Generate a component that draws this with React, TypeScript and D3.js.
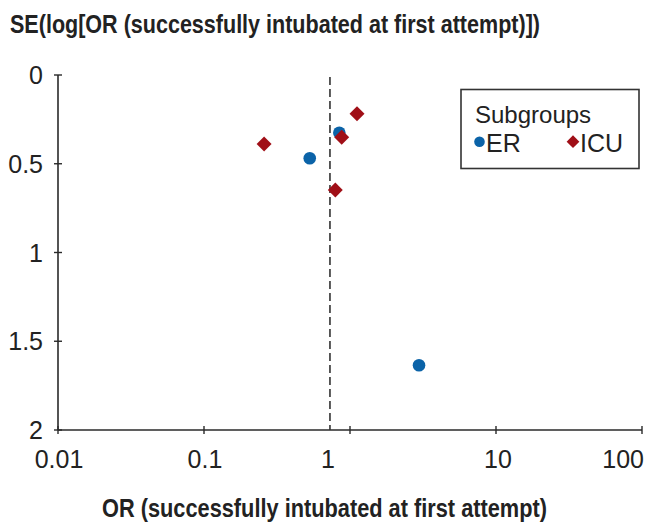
import React from "react";
import * as d3 from "d3";

const xTickValues = [0.01, 0.1, 1, 10, 100];
const xTickLabels = ["0.01", "0.1", "1", "10", "100"];
const yTickValues = [0, 0.5, 1, 1.5, 2];
const yTickLabels = ["0", "0.5", "1", "1.5", "2"];

const erOR = [0.53, 0.845, 2.97];
const erSE = [0.469, 0.325, 1.635];
const icuOR = [0.258, 0.877, 1.117, 0.793];
const icuSE = [0.389, 0.351, 0.218, 0.648];
const pooledOR = 0.729;

const seriesNames = ["ER", "ICU"];
const titleText = "SE(log[OR (successfully intubated at first attempt)])";
const xLabelText = "OR (successfully intubated at first attempt)";
const legendTitle = "Subgroups";

const W = 654;
const H = 531;
const FONT = "'Liberation Sans Narrow', 'Arial Narrow', 'Liberation Sans', Arial, sans-serif";
const BLUE = "#0b63a8";
const RED = "#a00f17";
const AXIS = "#2a2a2a";

// per-label horizontal placement (style only)
const xLabelAnchor = ["middle", "middle", "middle", "middle", "end"];
const xLabelDx = [1, 1, -22, 2, 2];

export default function App() {
  const x = d3.scaleLog().domain([0.01, 100]).range([58, 642]);
  const y = d3.scaleLinear().domain([0, 2]).range([75, 430]);
  const diamond = d3.symbol().type(d3.symbolDiamond2 || d3.symbolDiamond).size(130);
  const diamondPath = d3.symbol().type(d3.symbolSquare).size(112)();

  const x0 = x.range()[0];
  const x1 = x.range()[1];
  const y0 = y.range()[0];
  const y1 = y.range()[1];

  const Diamond = ({ cx, cy, s = 1 }: { cx: number; cy: number; s?: number }) => (
    <path d={diamondPath} transform={`translate(${cx},${cy}) rotate(45) scale(${s})`} fill={RED} />
  );

  return (
    <svg width={W} height={H} style={{ display: "block", position: "absolute", left: 0, top: 0 }}>
      <rect width={W} height={H} fill="#fff" />
      <text x={10} y={33} fontFamily={FONT} fontWeight="bold" fontSize={25} fill="#222" textLength={530} lengthAdjust="spacingAndGlyphs">
        {titleText}
      </text>

      {/* y axis */}
      <line x1={x0} x2={x0} y1={y0} y2={y1} stroke={AXIS} strokeWidth={1.6} />
      {yTickValues.map((v, i) => (
        <g key={"yt" + i}>
          <line x1={x0 - 4} x2={x0 + 4} y1={y(v)} y2={y(v)} stroke={AXIS} strokeWidth={1.4} />
          <text x={x0 - 15} y={y(v)} dy="0.36em" textAnchor="end" fontFamily={FONT} fontSize={25} fill="#222">
            {yTickLabels[i]}
          </text>
        </g>
      ))}

      {/* x axis */}
      <line x1={x0} x2={x1} y1={y1} y2={y1} stroke={AXIS} strokeWidth={1.6} />
      {xTickValues.map((v, i) => (
        <g key={"xt" + i}>
          <line x1={x(v)} x2={x(v)} y1={y1 - 4} y2={y1 + 4} stroke={AXIS} strokeWidth={1.4} />
          <text x={x(v) + xLabelDx[i]} y={468} textAnchor={xLabelAnchor[i] as any} fontFamily={FONT} fontSize={25} fill="#222">
            {xTickLabels[i]}
          </text>
        </g>
      ))}
      <text x={102} y={517} fontFamily={FONT} fontWeight="bold" fontSize={25} fill="#222" textLength={445} lengthAdjust="spacingAndGlyphs">
        {xLabelText}
      </text>

      {/* pooled estimate */}
      <line x1={x(pooledOR)} x2={x(pooledOR)} y1={y0 + 2} y2={y1} stroke="#333" strokeWidth={1.6} strokeDasharray="8,4" />

      {/* points */}
      {erOR.map((v, i) => (
        <circle key={"er" + i} cx={x(v)} cy={y(erSE[i])} r={6.3} fill={BLUE} />
      ))}
      {icuOR.map((v, i) => (
        <Diamond key={"icu" + i} cx={x(v)} cy={y(icuSE[i])} />
      ))}

      {/* legend */}
      <rect x={461} y={89.5} width={178} height={79} fill="#fff" stroke="#333" strokeWidth={1.6} />
      <text x={475} y={123} fontFamily={FONT} fontSize={24} fill="#222">{legendTitle}</text>
      <circle cx={479.5} cy={141.7} r={5.3} fill={BLUE} />
      <text x={486} y={152} fontFamily={FONT} fontSize={25} fill="#222">{seriesNames[0]}</text>
      <Diamond cx={573} cy={141.7} s={0.85} />
      <text x={580} y={152} fontFamily={FONT} fontSize={25} fill="#222">{seriesNames[1]}</text>
    </svg>
  );
}
